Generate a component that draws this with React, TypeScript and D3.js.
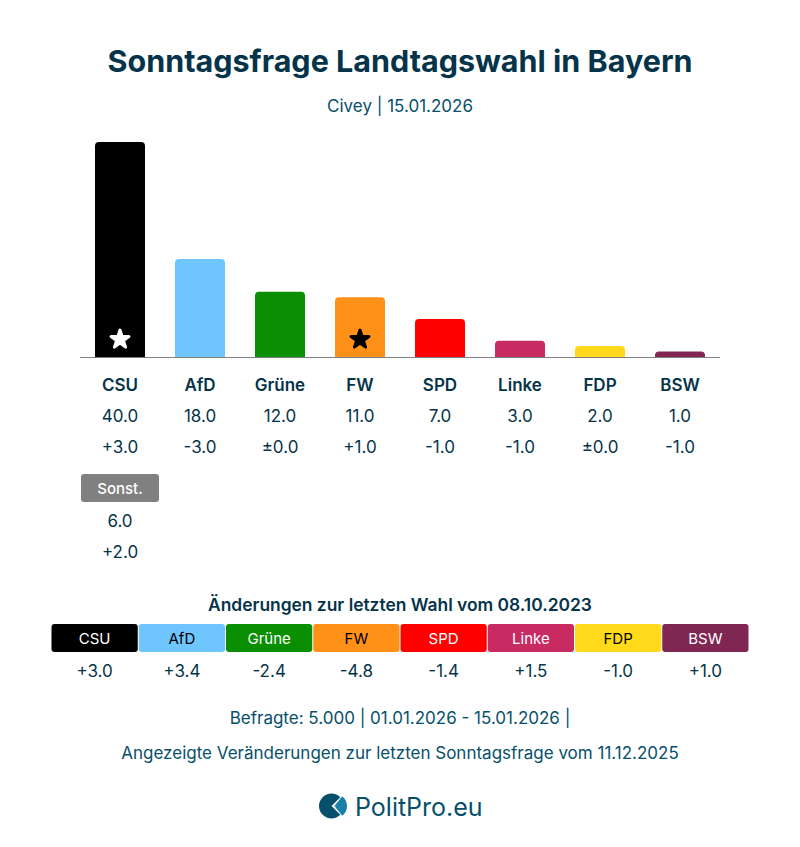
import * as d3 from 'd3';

const WIDTH = 800;
const HEIGHT = 847;
const FONT = 'Inter, "Noto Sans", sans-serif';
const DARK = '#05344a';
const TEAL = '#06506b';

const parties = ['CSU', 'AfD', 'Grüne', 'FW', 'SPD', 'Linke', 'FDP', 'BSW'];
const values = [40.0, 18.0, 12.0, 11.0, 7.0, 3.0, 2.0, 1.0];
const changes = ['+3.0', '-3.0', '±0.0', '+1.0', '-1.0', '-1.0', '±0.0', '-1.0'];
const colors = ['#000000', '#6fc6ff', '#0a8f02', '#ff9119', '#ff0000', '#c82a62', '#ffd91a', '#7f2652'];
const labelColors = ['#fff', '#000', '#fff', '#000', '#fff', '#fff', '#000', '#fff'];
const electionChanges = ['+3.0', '+3.4', '-2.4', '-4.8', '-1.4', '+1.5', '-1.0', '+1.0'];
const starred = ['CSU', 'FW'];

const otherLabel = 'Sonst.';
const otherValue = '6.0';
const otherChange = '+2.0';

const x = d3.scaleBand<string>().domain(parties).range([80, 720]).paddingInner(0.375).paddingOuter(0.1875);
// the tallest bar is cut off at the top of the plot
const y = d3.scaleLinear().domain([0, 39.5]).range([357, 142]).clamp(true);
const xTable = d3.scaleBand<string>().domain(parties).range([51, 749]);

const topRounded = (x0: number, y0: number, w: number, h: number, r: number) => {
  const p = d3.path();
  const rr = Math.min(r, h);
  p.moveTo(x0, y0 + h);
  p.lineTo(x0, y0 + rr);
  p.arcTo(x0, y0, x0 + rr, y0, rr);
  p.lineTo(x0 + w - rr, y0);
  p.arcTo(x0 + w, y0, x0 + w, y0 + rr, rr);
  p.lineTo(x0 + w, y0 + h);
  p.closePath();
  return p.toString();
};

const star = d3.symbol(d3.symbolStar, 100)();

const deg = Math.PI / 180;
const logoDark = d3.arc()({ innerRadius: 0, outerRadius: 12.5, startAngle: 135 * deg, endAngle: 405 * deg }) as string;
const logoLight = d3.arc()({ innerRadius: 0, outerRadius: 12.5, startAngle: 38 * deg, endAngle: 142 * deg }) as string;

export default function App() {
  const cx = (p: string) => (x(p) as number) + x.bandwidth() / 2;
  const tx = (p: string) => (xTable(p) as number) + xTable.bandwidth() / 2;

  return (
    <svg
      width={WIDTH}
      height={HEIGHT}
      style={{ position: 'absolute', left: 0, top: 0, background: '#fff' }}
      fontFamily={FONT}
      textAnchor="middle"
    >
      <text x={400} y={72} fontSize={30.5} fontWeight={700} fill={DARK}>
        Sonntagsfrage Landtagswahl in Bayern
      </text>
      <text x={400} y={112} fontSize={17} fill={TEAL}>
        Civey | 15.01.2026
      </text>

      {parties.map((p, i) => (
        <g key={p}>
          <path
            d={topRounded(x(p) as number, y(values[i]), x.bandwidth(), y(0) - y(values[i]), 4)}
            fill={colors[i]}
          />
          {starred.includes(p) && (
            <path
              d={star as string}
              transform={`translate(${cx(p)},${y(0) - 17.5})`}
              fill={labelColors[i]}
              stroke={labelColors[i]}
              strokeWidth={3}
              strokeLinejoin="round"
            />
          )}
          <text x={cx(p)} y={391} fontSize={17} fontWeight={600} fill={DARK}>
            {p}
          </text>
          <text x={cx(p)} y={422} fontSize={17} fill={DARK}>
            {values[i].toFixed(1)}
          </text>
          <text x={cx(p)} y={453} fontSize={17} fill={DARK}>
            {changes[i]}
          </text>
        </g>
      ))}
      <line x1={80} x2={720} y1={357.5} y2={357.5} stroke="#808080" />

      <rect x={81} y={474} width={78} height={28} rx={3} fill="#808080" />
      <text x={120} y={494} fontSize={15} fontWeight={500} fill="#fff">
        {otherLabel}
      </text>
      <text x={120} y={526.5} fontSize={17} fill={DARK}>
        {otherValue}
      </text>
      <text x={120} y={557.5} fontSize={17} fill={DARK}>
        {otherChange}
      </text>

      <text x={400} y={611} fontSize={17.4} fontWeight={600} fill={DARK}>
        Änderungen zur letzten Wahl vom 08.10.2023
      </text>
      {parties.map((p, i) => (
        <g key={p}>
          <rect
            x={(xTable(p) as number) + 0.5}
            y={624}
            width={xTable.bandwidth() - 1}
            height={28}
            rx={3}
            fill={colors[i]}
          />
          <text x={tx(p)} y={644} fontSize={15} fill={labelColors[i]}>
            {p}
          </text>
          <text x={tx(p)} y={677} fontSize={17} fill={DARK}>
            {electionChanges[i]}
          </text>
        </g>
      ))}

      <text x={400} y={724} fontSize={17} fill={TEAL}>
        Befragte: 5.000 | 01.01.2026 - 15.01.2026 |
      </text>
      <text x={400} y={759} fontSize={17} fill={TEAL}>
        Angezeigte Veränderungen zur letzten Sonntagsfrage vom 11.12.2025
      </text>

      <g transform="translate(331.5,806)">
        <path d={logoDark} fill={TEAL} />
        <path d={logoLight} transform="translate(3,0)" fill="#1880a8" />
      </g>
      <text x={355} y={816} fontSize={25} fontWeight={400} fill={TEAL} textAnchor="start">
        PolitPro.eu
      </text>
    </svg>
  );
}
